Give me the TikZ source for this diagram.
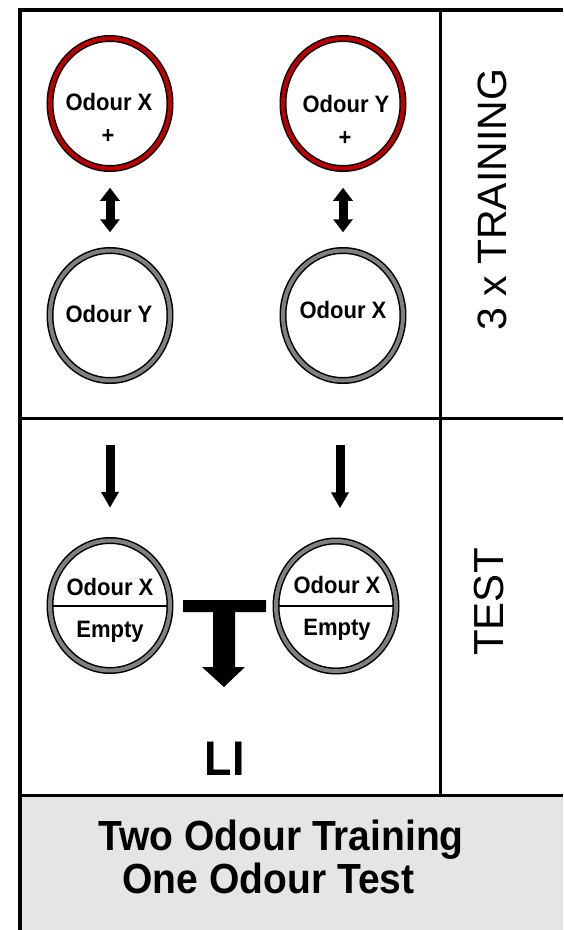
\documentclass[tikz,border=0pt]{standalone}
\usepackage{fontspec}
\setmainfont{Liberation Sans}
\usetikzlibrary{shapes.geometric,arrows.meta}
\definecolor{ringred}{HTML}{C00000}
\definecolor{ringgray}{HTML}{808080}
\definecolor{boxgray}{HTML}{E6E4E6}
\newcommand{\tallt}[1]{\scalebox{1}[1.08]{#1}}
\begin{document}
\begin{tikzpicture}[x=1pt,y=-1pt,
  dish/.style={ellipse, draw=black, line width=1.5pt, double distance=4pt,
    minimum width=120pt, minimum height=130pt, inner sep=0pt, fill=white},
  rewarddish/.style={dish, double=ringred},
  plaindish/.style={dish, double=ringgray},
  lbl/.style={font=\fontsize{22}{24}\selectfont\bfseries, anchor=base, inner sep=0pt},
  sidelbl/.style={rotate=90, inner sep=0pt},
  title/.style={font=\fontsize{39}{42}\selectfont\bfseries, anchor=base, inner sep=0pt},
  frame/.style={line width=4pt, black},
  divider/.style={line width=3pt, black},
  dblarrow/.style={line width=9pt, {Triangle[width=19pt,length=13pt]}-{Triangle[width=19pt,length=13pt]}},
  downarrow/.style={line width=9pt, -{Triangle[width=17pt,length=16pt]}},
]
\useasboundingbox (0,0) rectangle (563,930);
% background box
\fill[boxgray] (20,795) rectangle (563,930);
% frame
\draw[frame] (20,930) -- (20,10) -- (563,10);
\draw[divider] (440,10) -- (440,795);
\draw[divider] (20,418) -- (563,418);
\draw[divider] (20,795) -- (563,795);

% training dishes
\node[rewarddish] (redL) at (110,103.5) {};
\node[rewarddish] (redR) at (343,103.5) {};
\node[plaindish] (grayL) at (110,315.5) {};
\node[plaindish] (grayR) at (343,315.5) {};
\node[lbl] (tRL1) at (109,110) {\tallt{Odour X}};
\node[lbl] (tRL2) at (108,143) {\tallt{+}};
\node[lbl] (tRR1) at (346,112) {\tallt{Odour Y}};
\node[lbl] (tRR2) at (345,145) {\tallt{+}};
\node[lbl] (tGL) at (109,322) {\tallt{Odour Y}};
\node[lbl] (tGR) at (343,318) {\tallt{Odour X}};
\draw[dblarrow, shorten <=18.5pt, shorten >=17.5pt] (redL) -- (grayL);
\draw[dblarrow, shorten <=18.5pt, shorten >=17.5pt] (redR) -- (grayR);

% test dishes
\node[plaindish] (testL) at (110,605.5) {};
\node[plaindish] (testR) at (336,606) {};
\draw[line width=2pt, shorten <=3.5pt, shorten >=3.5pt] (testL.west) -- (testL.east);
\draw[line width=2pt, shorten <=3.5pt, shorten >=3.5pt] (testR.west) -- (testR.east);
\node[lbl] (xL) at (110,595) {\tallt{Odour X}};
\node[lbl] (eL) at (110,637) {\tallt{Empty}};
\node[lbl] (xR) at (337,593) {\tallt{Odour X}};
\node[lbl] (eR) at (337,635) {\tallt{Empty}};

\coordinate (d1) at (110,445);
\coordinate (d2) at (340,445);
\draw[downarrow, shorten >=32pt] (d1) -- (d1 |- testL.north);
\draw[downarrow, shorten >=32pt] (d2) -- (d2 |- testR.north);

% T arrow
\fill[black] (183,600) -- (266,600) -- (266,612) -- (235,612) -- (235,667) -- (245,667)
  -- (224,687) -- (202,667) -- (213,667) -- (213,612) -- (183,612) -- cycle;
\node[font=\fontsize{45}{48}\selectfont\bfseries, anchor=base, inner sep=0pt] (li) at (224.5,775) {\tallt{LI}};

% side labels
\node[sidelbl, font=\fontsize{41}{44}\selectfont] (train) at (492,200) {3 x TRAINING};
\node[sidelbl, font=\fontsize{42}{44}\selectfont] (test) at (489,602) {TEST};

% titles
\node[title] (t1) at (281,850) {\tallt{Two Odour Training}};
\node[title] (t2) at (268.5,893) {\tallt{One Odour Test}};
\end{tikzpicture}
\end{document}
